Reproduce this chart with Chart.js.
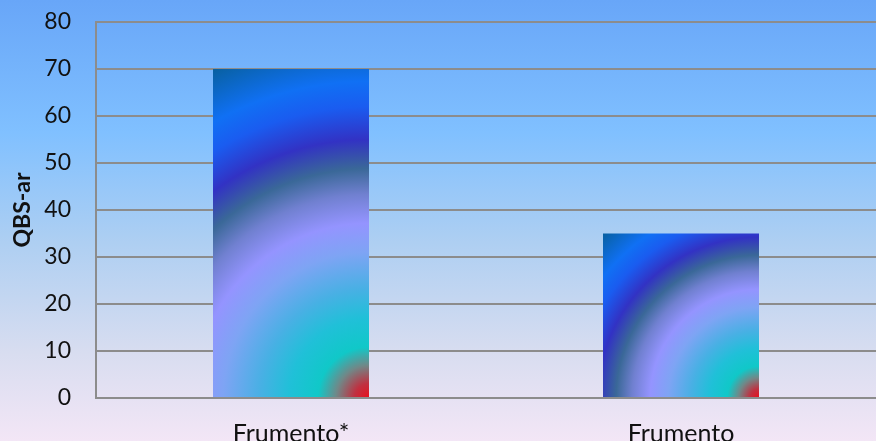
<!DOCTYPE html>
<html>
<head>
<meta charset="utf-8">
<script src="https://cdn.jsdelivr.net/npm/chart.js@4/dist/chart.umd.min.js"></script>
<style>
  html, body { margin: 0; padding: 0; background: #ffffff; }
  #wrap { width: 876px; height: 441px; position: relative; }
</style>
</head>
<body>
<div id="wrap"><canvas id="chart"></canvas></div>
<script>
// Categories and values
const categories = ['Frumento*', 'Frumento'];
const qbsValues = [70, 35];
const yTicks = [0, 10, 20, 30, 40, 50, 60, 70, 80];
const yTitle = 'QBS-ar';

const FONT = 'Lato, "Open Sans", sans-serif';
const BAR_FRACTION = 0.4;

// Colour stops of the bar fill, radiating out from the bottom-right corner
const barStops = [
  [0.00, '#e8101c'],
  [0.04, '#c03040'],
  [0.09, '#708888'],
  [0.14, '#10c8c8'],
  [0.22, '#20c0d8'],
  [0.30, '#48b0e4'],
  [0.40, '#7ea4f4'],
  [0.48, '#9494ff'],
  [0.56, '#7080d0'],
  [0.63, '#3a6898'],
  [0.71, '#3232c4'],
  [0.80, '#1a5cf0'],
  [0.87, '#1070f4'],
  [1.00, '#0860a0']
];

function barFill(context) {
  const chart = context.chart;
  const area = chart.chartArea;
  const xs = chart.scales.x, ys = chart.scales.y;
  if (!area || !xs || !ys || context.dataIndex === undefined) return '#3060d0';
  const value = context.dataset.data[context.dataIndex];
  const cx = xs.getPixelForValue(context.dataIndex);
  const w = (area.right - area.left) / categories.length * BAR_FRACTION;
  const right = cx + w / 2;
  const top = ys.getPixelForValue(value);
  const bottom = ys.getPixelForValue(0);
  const h = bottom - top;
  const r = Math.sqrt(w * w + h * h);
  const g = chart.ctx.createRadialGradient(right, bottom, 0, right, bottom, r);
  barStops.forEach(([o, c]) => g.addColorStop(o, c));
  return g;
}

// Page-wide vertical backdrop
const backdrop = {
  id: 'backdrop',
  beforeDraw(chart) {
    const { ctx, width, height } = chart;
    const g = ctx.createLinearGradient(0, 0, 0, height);
    g.addColorStop(0.00, '#68a6f8');
    g.addColorStop(0.30, '#80c0ff');
    g.addColorStop(0.55, '#aecff2');
    g.addColorStop(0.80, '#d8ddf0');
    g.addColorStop(1.00, '#f3e6f6');
    ctx.save();
    ctx.fillStyle = g;
    ctx.fillRect(0, 0, width, height);
    ctx.restore();
  }
};

// Keep the plot edges fixed regardless of label overhang
function noOverhang(scale) {
  scale.paddingTop = 0;
  scale.paddingBottom = 0;
  scale.paddingLeft = 0;
  scale.paddingRight = 0;
}

new Chart(document.getElementById('chart'), {
  type: 'bar',
  data: {
    labels: categories,
    datasets: [{
      data: qbsValues,
      backgroundColor: barFill,
      borderWidth: 0,
      barPercentage: BAR_FRACTION,
      categoryPercentage: 1.0
    }]
  },
  plugins: [backdrop],
  options: {
    responsive: true,
    maintainAspectRatio: false,
    animation: false,
    layout: { padding: { top: 22, right: 0, bottom: 0, left: 0 } },
    plugins: {
      legend: { display: false },
      tooltip: { enabled: false }
    },
    scales: {
      x: {
        grid: { display: false, drawTicks: false },
        border: { display: true, color: '#8c8c8c', width: 2 },
        ticks: {
          color: '#111111',
          font: { family: FONT, size: 25 },
          padding: 21
        },
        afterFit(scale) { scale.height = 43; noOverhang(scale); }
      },
      y: {
        min: 0,
        max: 80,
        afterBuildTicks(scale) { scale.ticks = yTicks.map(v => ({ value: v })); },
        grid: { color: '#8c8c8c', lineWidth: 2, drawTicks: false },
        border: { display: true, color: '#8c8c8c', width: 2 },
        ticks: {
          color: '#111111',
          font: { family: FONT, size: 23 },
          padding: 25
        },
        title: {
          display: true,
          text: yTitle,
          color: '#111111',
          font: { family: FONT, size: 23, weight: 'bold' },
          padding: { top: 9, bottom: 0 }
        },
        afterFit(scale) { scale.width = 96; noOverhang(scale); }
      }
    }
  }
});
</script>
</body>
</html>
